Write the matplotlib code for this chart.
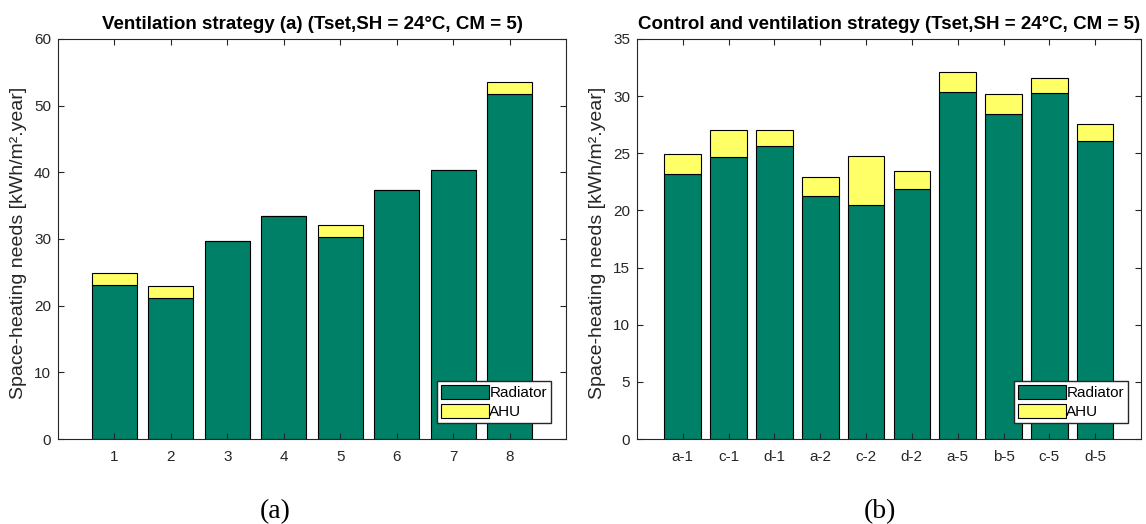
import matplotlib
matplotlib.use("Agg")
import matplotlib.pyplot as plt
import numpy as np

plt.rcParams['font.family'] = ['Liberation Sans', 'DejaVu Sans']

# Panel (a): ventilation strategies 1..8
cases_a = ['1', '2', '3', '4', '5', '6', '7', '8']
radiator_a = [23.1, 21.2, 29.65, 33.5, 30.35, 37.35, 40.35, 51.75]
ahu_a = [1.75, 1.75, 0.0, 0.0, 1.75, 0.0, 0.0, 1.75]

# Panel (b): control and ventilation strategies
cases_b = ['a-1', 'c-1', 'd-1', 'a-2', 'c-2', 'd-2', 'a-5', 'b-5', 'c-5', 'd-5']
radiator_b = [23.2, 24.7, 25.6, 21.3, 20.5, 21.9, 30.4, 28.45, 30.3, 26.1]
ahu_b = [1.75, 2.35, 1.45, 1.65, 4.3, 1.55, 1.7, 1.75, 1.3, 1.5]

green = '#008066'
yellow = '#ffff66'
txt = '#262626'


def draw_panel(ax, cases, rad, ahu, ymax, title, legx):
    x = np.arange(1, len(cases) + 1)
    ax.bar(x, rad, width=0.8, color=green, edgecolor='black', linewidth=0.8, label='Radiator')
    ax.bar(x, ahu, width=0.8, bottom=rad, color=yellow, edgecolor='black', linewidth=0.8, label='AHU')
    ax.set_xlim(0, len(cases) + 1)
    ax.set_ylim(0, ymax)
    ax.set_xticks(x)
    ax.set_xticklabels(cases)
    ax.tick_params(axis='both', direction='in', top=True, right=True, length=4,
                   labelsize=11, colors=txt, width=0.8)
    ax.tick_params(axis='x', pad=8)
    ax.tick_params(axis='y', pad=5)
    for s in ax.spines.values():
        s.set_color(txt)
        s.set_linewidth(0.8)
    ax.set_title(title, fontsize=13.5, fontweight='bold', pad=7)
    ax.set_ylabel('Space-heating needs [kWh/m².year]', fontsize=14, color=txt)
    ax.yaxis.set_label_coords(-0.061, 0.49)
    ax.legend(loc='lower right', bbox_to_anchor=(legx, 0.04), fontsize=11,
              handlelength=3.1, handleheight=1.0, handletextpad=0.05,
              labelspacing=0.25, borderpad=0.25, borderaxespad=0.0, fancybox=False,
              edgecolor='#262626', framealpha=1)


fig = plt.figure(figsize=(11.46, 5.24), dpi=100)
ax1 = fig.add_axes([0.0506, 0.1622, 0.4433, 0.7634])
ax2 = fig.add_axes([0.5558, 0.1622, 0.4398, 0.7634])

draw_panel(ax1, cases_a, radiator_a, ahu_a, 60,
           'Ventilation strategy (a) (Tset,SH = 24°C, CM = 5)', 0.97)
draw_panel(ax2, cases_b, radiator_b, ahu_b, 35,
           'Control and ventilation strategy (Tset,SH = 24°C, CM = 5)', 0.974)

fig.text(0.24, 0.024, '(a)', ha='center', va='center', fontsize=20, family='Liberation Serif')
fig.text(0.768, 0.024, '(b)', ha='center', va='center', fontsize=20, family='Liberation Serif')

fig.savefig('out.png', dpi=100)
